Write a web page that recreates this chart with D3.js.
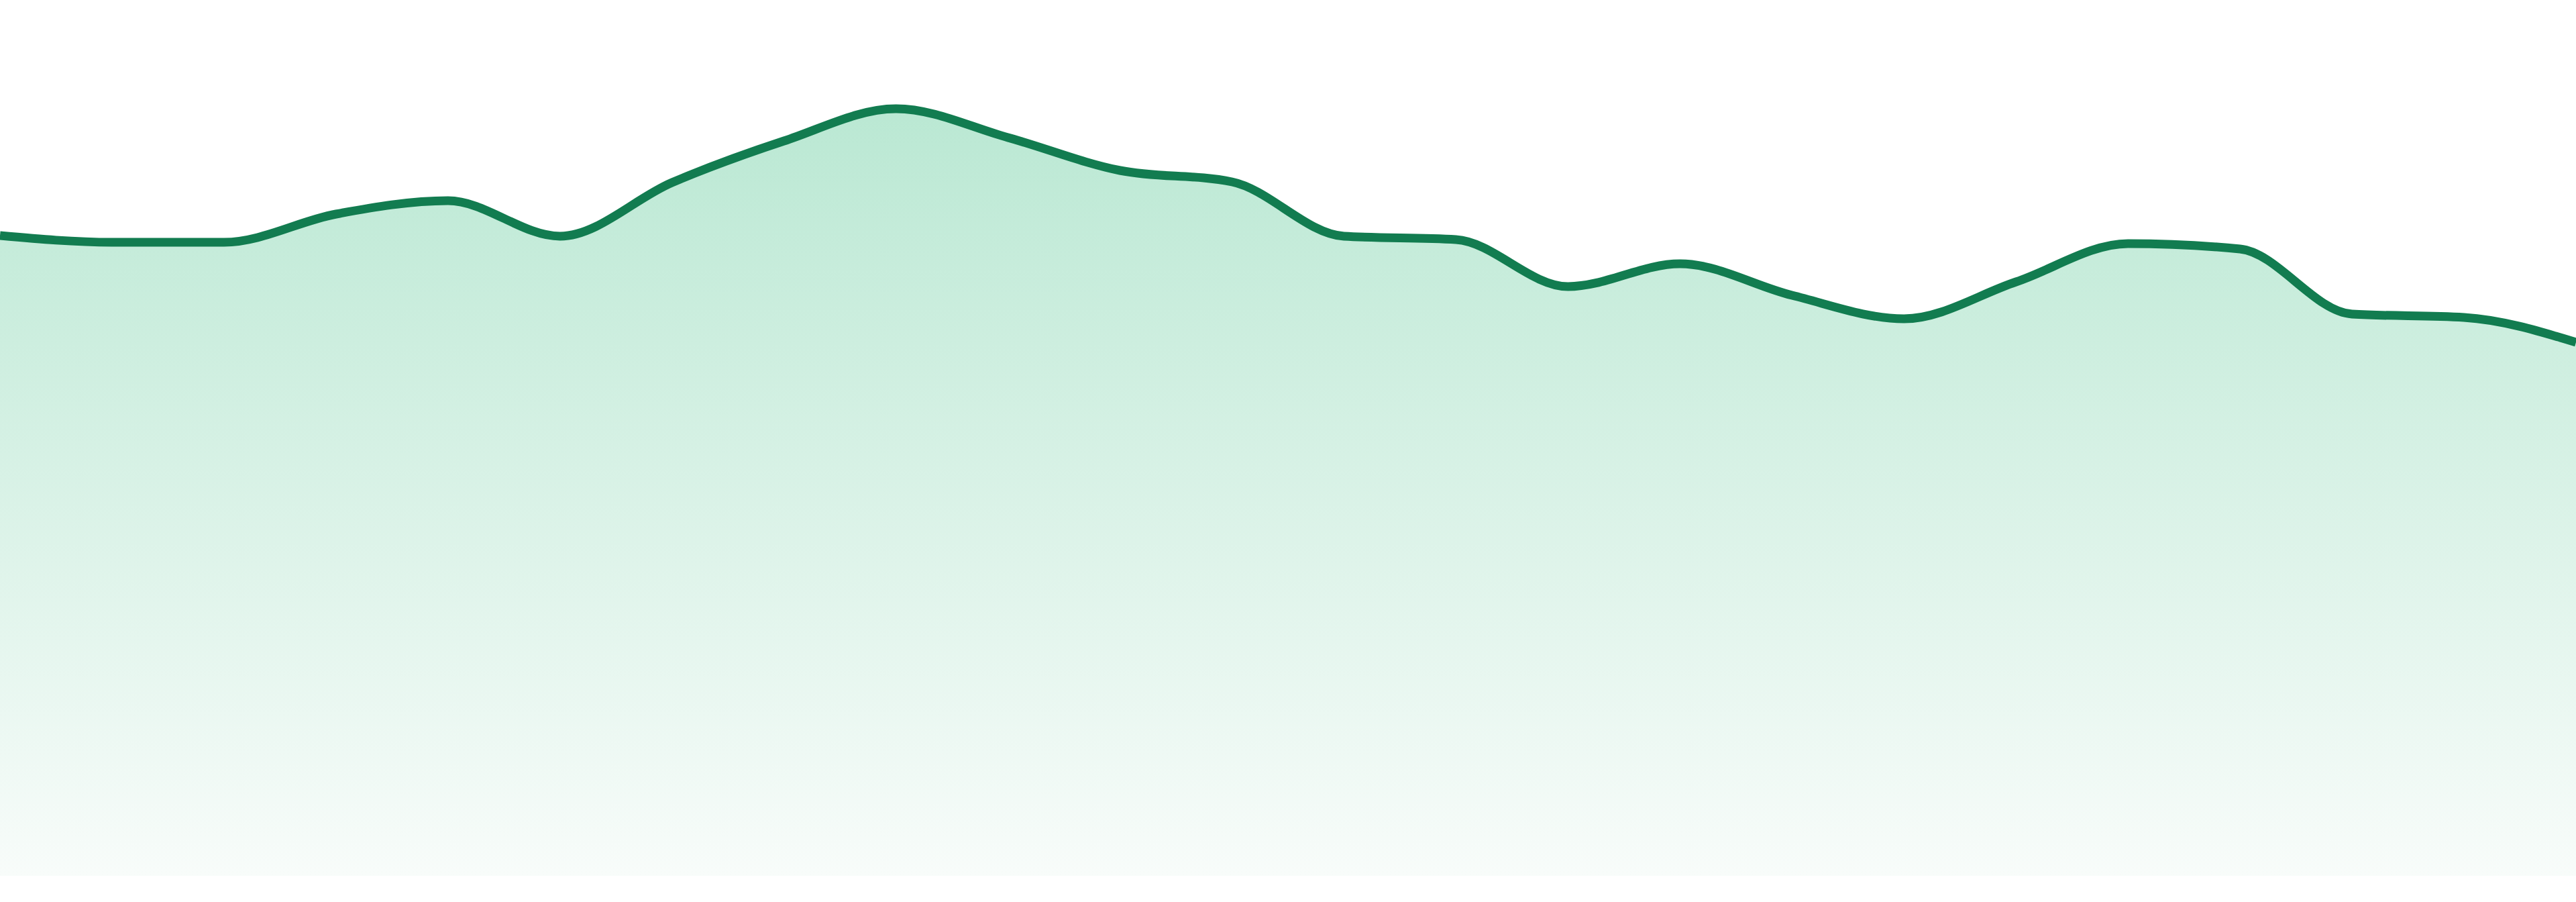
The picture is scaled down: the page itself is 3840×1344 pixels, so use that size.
<!DOCTYPE html>
<html>
<head>
<meta charset="utf-8">
<script src="https://cdn.jsdelivr.net/npm/d3@7"></script>
<style>
  html, body { margin: 0; padding: 0; background: #ffffff; }
  svg { display: block; }
</style>
</head>
<body>
<div id="chart"></div>
<script>
// hourly readings, no axes shown in the original
const hours = ["00:00", "01:00", "02:00", "03:00", "04:00", "05:00", "06:00", "07:00",
  "08:00", "09:00", "10:00", "11:00", "12:00", "13:00", "14:00", "15:00",
  "16:00", "17:00", "18:00", "19:00", "20:00", "21:00", "22:00", "23:00"];
const values = [95.4, 94.4, 94.4, 98.6, 100.6, 95.3, 103.3, 109.5,
  114.3, 110.0, 105.1, 103.4, 95.3, 94.8, 87.8, 91.2,
  86.5, 83.0, 88.5, 94.2, 93.4, 83.7, 83.2, 79.5];
const yDomain = [0, 130.5];

const width = 3840, height = 1344;
const margin = { top: 0, right: 0, bottom: 39, left: 0 };

const data = hours.map((h, i) => ({ hour: h, value: values[i] }));

const svg = d3.select("#chart")
  .append("svg")
  .attr("width", width)
  .attr("height", height);

const x = d3.scalePoint()
  .domain(hours)
  .range([margin.left, width - margin.right]);

const y = d3.scaleLinear()
  .domain(yDomain)
  .range([height - margin.bottom, margin.top]);

const grad = svg.append("defs")
  .append("linearGradient")
  .attr("id", "fillGrad")
  .attr("gradientUnits", "userSpaceOnUse")
  .attr("x1", 0).attr("x2", 0)
  .attr("y1", y(d3.max(values)))
  .attr("y2", y(0));
grad.append("stop").attr("offset", "0%").attr("stop-color", "#bae8d3");
grad.append("stop").attr("offset", "100%").attr("stop-color", "#f8fcfa");

const area = d3.area()
  .x(d => x(d.hour))
  .y0(y(0))
  .y1(d => y(d.value))
  .curve(d3.curveMonotoneX);

const line = d3.line()
  .x(d => x(d.hour))
  .y(d => y(d.value))
  .curve(d3.curveMonotoneX);

svg.append("path")
  .datum(data)
  .attr("fill", "url(#fillGrad)")
  .attr("d", area);

svg.append("path")
  .datum(data)
  .attr("fill", "none")
  .attr("stroke", "#127c50")
  .attr("stroke-width", 13)
  .attr("stroke-linejoin", "round")
  .attr("d", line);
</script>
</body>
</html>
